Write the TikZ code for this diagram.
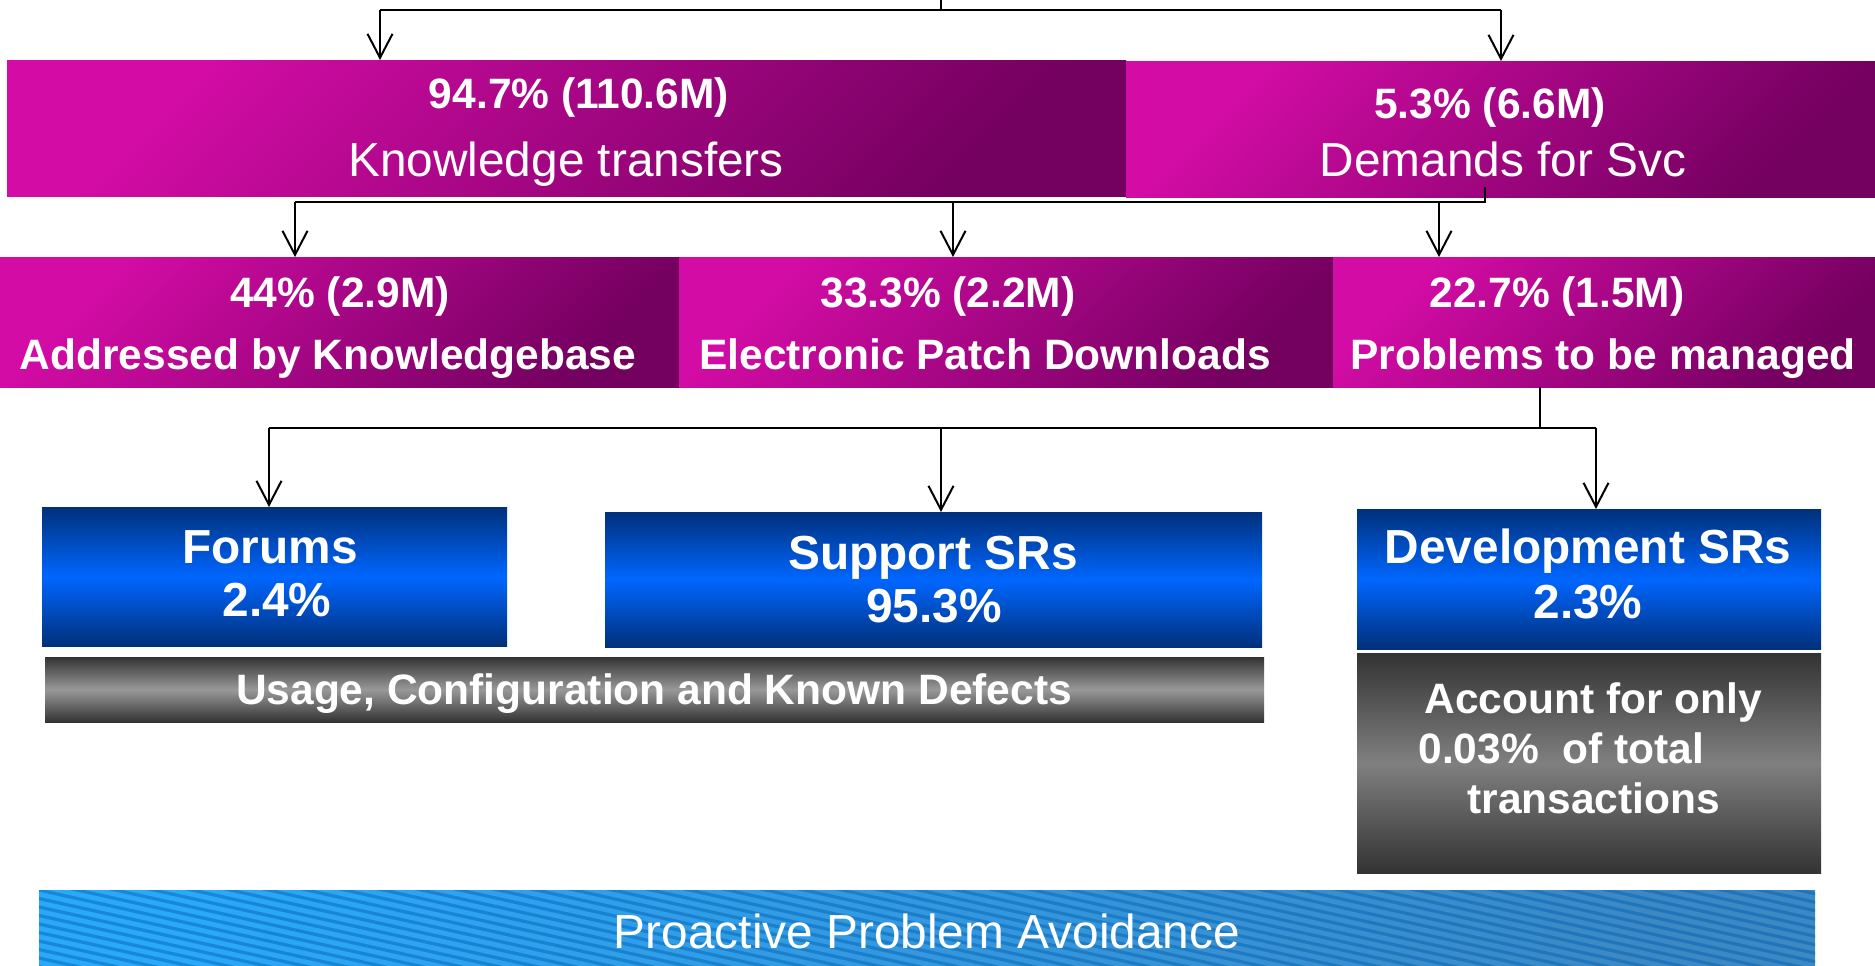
\documentclass[tikz,border=0pt]{standalone}
\usepackage{fontspec}
\setmainfont{Liberation Sans}
\usetikzlibrary{arrows.meta,fit}
\definecolor{magA}{HTML}{D40CA6}
\definecolor{magB}{HTML}{740060}
\definecolor{navy}{HTML}{00307A}
\definecolor{brightblue}{HTML}{0066FF}
\definecolor{skyA}{HTML}{2AA8FA}
\definecolor{skyB}{HTML}{3C88C4}
\definecolor{stripe}{HTML}{005FB0}
\newcommand{\bigfont}{\fontsize{23.9}{28}\selectfont}
\newcommand{\midfont}{\fontsize{21.25}{25}\selectfont}
\begin{document}
\begin{tikzpicture}[x=0.5pt,y=-0.5pt,
  conn/.style={line width=1pt,black},
  arr/.style={conn,-{Straight Barb[length=12pt,width=12.5pt,line width=1pt]}},
  magbox/.style={inner sep=0pt,outer sep=0pt,left color=magA,right color=magB,shading angle=45},
  bluebox/.style={inner sep=0pt,outer sep=0pt,top color=navy,bottom color=navy,middle color=brightblue},
  graybox/.style={inner sep=0pt,outer sep=0pt,top color=black!80,bottom color=black!80,middle color=black!40},
  darkbox/.style={inner sep=0pt,outer sep=0pt,top color=black!80,bottom color=black!80,middle color=black!50},
  skybox/.style={inner sep=0pt,outer sep=0pt,left color=skyA,right color=skyB,shading angle=75},
  txt/.style={text=white,inner sep=0pt,anchor=base},
  txtl/.style={text=white,inner sep=0pt,anchor=base west}]
\useasboundingbox (0,0) rectangle (1875,965);

% boxes
\node[magbox,fit={(7,60) (1126,196)}] (kt) {};
\node[magbox,fit={(1126,61) (1875,197)}] (ds) {};
\node[magbox,fit={(0,257) (679,387)}] (ka) {};
\node[magbox,fit={(679,257) (1333,387)}] (ep) {};
\node[magbox,fit={(1333,257) (1875,387)}] (pm) {};
\node[bluebox,fit={(42,507) (507,646)}] (fo) {};
\node[bluebox,fit={(605,512) (1262,647)}] (ss) {};
\node[bluebox,fit={(1357,509) (1821,649)}] (dv) {};
\node[graybox,fit={(45,657) (1264,722)}] (us) {};
\node[darkbox,fit={(1357,653) (1821,873)}] (ac) {};
\node[skybox,fit={(39,890) (1815,965)}] (pp) {};
\begin{scope}
  \clip (pp.north west) rectangle (pp.south east);
  \foreach \i in {-60,...,12}
    \draw[stripe,opacity=0.45,line width=1.6pt] (39,890+\i*8.5) -- ++(1800,400);
\end{scope}

% connectors, level 1
\coordinate (t0) at (941,0);
\coordinate (t1) at (941,10);
\coordinate (tl) at (380,10);
\coordinate (tr) at (1501,10);
\draw[conn] (t0) -- (t1);
\draw[conn] (tl) -- (tr);
\draw[arr] (tl) -- (tl |- kt.north);
\draw[arr] (tr) -- (tr |- ds.north);

% connectors, level 2
\coordinate (d0) at (1485,187);
\coordinate (d1) at (1485,202);
\coordinate (dl) at (295,202);
\coordinate (dm) at (953,202);
\coordinate (dr) at (1439,202);
\draw[conn] (d0) -- (d1) -- (dl);
\draw[arr] (dl) -- (dl |- ka.north);
\draw[arr] (dm) -- (dm |- ep.north);
\draw[arr] (dr) -- (dr |- pm.north);

% connectors, level 3
\coordinate (p0) at (1540,387);
\coordinate (p1) at (1540,428);
\coordinate (pl) at (269,428);
\coordinate (pc) at (941,428);
\coordinate (pr) at (1596,428);
\draw[conn] (p0) -- (p1);
\draw[conn] (pl) -- (pr);
\draw[arr] (pl) -- (pl |- fo.north);
\draw[arr] (pc) -- (pc |- ss.north);
\draw[arr] (pr) -- (pr |- dv.north);

% texts
\node[txt,font=\midfont\bfseries] (kt1) at (579,108) {94.7\% (110.6M)};
\node[txt,font=\bigfont] (kt2) at (566,176) {Knowledge transfers};
\node[txt,font=\midfont\bfseries] (ds1) at (1490,118) {5.3\% (6.6M)};
\node[txt,font=\bigfont] (ds2) at (1503,176) {Demands for Svc};
\node[txt,font=\midfont\bfseries] (ka1) at (340,307) {44\% (2.9M)};
\node[txt,font=\midfont\bfseries] (ka2) at (328,369) {Addressed by Knowledgebase};
\node[txt,font=\midfont\bfseries] (ep1) at (948,307) {33.3\% (2.2M)};
\node[txt,font=\midfont\bfseries] (ep2) at (985,369) {Electronic Patch Downloads};
\node[txt,font=\midfont\bfseries] (pm1) at (1557,307) {22.7\% (1.5M)};
\node[txt,font=\midfont\bfseries] (pm2) at (1603,369) {Problems to be managed};
\node[txt,font=\bigfont\bfseries] (fo1) at (270,563) {Forums};
\node[txt,font=\bigfont\bfseries] (fo2) at (277,616) {2.4\%};
\node[txt,font=\bigfont\bfseries] (ss1) at (933,569) {Support SRs};
\node[txt,font=\bigfont\bfseries] (ss2) at (934,622) {95.3\%};
\node[txt,font=\bigfont\bfseries] (dv1) at (1588,563) {Development SRs};
\node[txt,font=\bigfont\bfseries] (dv2) at (1588,618) {2.3\%};
\node[txt,font=\midfont\bfseries] (us1) at (654,704) {Usage, Configuration and Known Defects};
\node[txtl,font=\midfont\bfseries] (ac1) at (1424,713) {Account for only};
\node[txtl,font=\midfont\bfseries] (ac2) at (1418,763) {0.03\%~ of total};
\node[txtl,font=\midfont\bfseries] (ac3) at (1467,813) {transactions};
\node[txt,font=\bigfont] (pp1) at (927,948) {Proactive Problem Avoidance};
\end{tikzpicture}
\end{document}
